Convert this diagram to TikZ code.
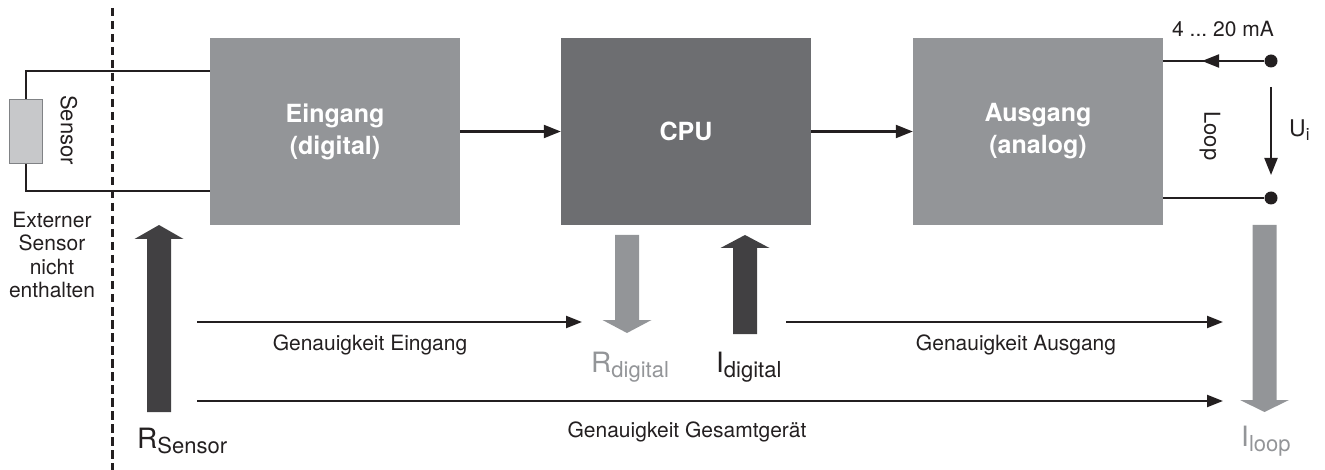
\documentclass[tikz,border=0pt]{standalone}
\usepackage{fontspec}
\setmainfont{TeX Gyre Heros}
\usetikzlibrary{arrows.meta}
\frenchspacing
\definecolor{boxgray}{HTML}{939598}
\definecolor{cpugray}{HTML}{6D6E71}
\definecolor{fatdark}{HTML}{414042}
\definecolor{inkblack}{HTML}{231F20}
\definecolor{sensfill}{HTML}{C7C8CA}
\definecolor{sensline}{HTML}{808285}

% wide block arrow: colour, x of axis, y of tail, y of head base, y of tip
\newcommand\fatarrow[5]{%
  \fill[#1] ({#2-12},#3) -- ({#2-12},#4) -- ({#2-24.5},#4) -- (#2,#5)
    -- ({#2+24.5},#4) -- ({#2+12},#4) -- ({#2+12},#3) -- cycle;}
\newcommand\bigsym[2]{{\fontsize{28}{30}\selectfont #1}\raisebox{-5pt}{\fontsize{22}{24}\selectfont #2}}

\begin{document}
\begin{tikzpicture}[x=1pt,y=-1pt,
  wire/.style={line width=2.1pt, draw=inkblack},
  conn/.style={wire, -{Triangle[length=17pt,width=13pt]}},
  block/.style={fill=#1, minimum width=250pt, minimum height=187pt,
    inner sep=0pt, text=white, align=center,
    font=\bfseries\fontsize{25}{32}\selectfont},
  lbl/.style={font=\fontsize{21}{23.5}\selectfont, text=inkblack, inner sep=0pt},
  sym/.style={inner sep=0pt, anchor=base west},
  dot/.style={circle, fill=inkblack, minimum size=13pt, inner sep=0pt}]

\useasboundingbox (0,0) rectangle (1325,470);

% processing blocks
\node[block=boxgray] (ein) at (335,131.5) {Eingang\\(digital)};
\node[block=cpugray] (cpu) at (686,131.5) {CPU};
\node[block=boxgray] (aus) at (1038,131.5) {Ausgang\\(analog)};

\draw[conn] (ein.east) -- (cpu.west);
\draw[conn] (cpu.east) -- (aus.west);

% external sensor and its wiring
\node[draw=sensline, fill=sensfill, line width=1.8pt, minimum width=33pt,
  minimum height=64pt, inner sep=0pt] (sens) at (26,131.5) {};
\coordinate (einTop) at (210,71);
\coordinate (einBot) at (210,191);
\draw[wire] (sens.north) |- (einTop);
\draw[wire] (sens.south) |- (einBot);
\node[lbl, font=\fontsize{22}{24}\selectfont, rotate=-90] (sensTxt) at (69,130) {Sensor};
\node[lbl, align=center, anchor=base] (extTxt) at (52,298)
  {Externer\\Sensor\\nicht\\enthalten};

% boundary of the device
\coordinate (dashTop) at (112,8);
\coordinate (dashBot) at (112,470);
\draw[line width=3pt, inkblack, dash pattern=on 8.5pt off 4.5pt] (dashTop) -- (dashBot);

% current loop terminals
\node[dot] (dA) at (1271,61) {};
\node[dot] (dB) at (1271,198) {};
\coordinate (ausTop) at (1163,61);
\coordinate (ausBot) at (1163,198);
\coordinate (loopTip) at (1202,61);
\draw[wire] (dA) -- (ausTop);
\draw[wire, -{Triangle[length=17pt,width=13pt]}] (dA) -- (loopTip);
\draw[wire] (ausBot) -- (dB);
\coordinate (uTop) at (1271,87);
\coordinate (uBot) at (1271,175);
\draw[conn] (uTop) -- (uBot);
\node[lbl, anchor=base] (maTxt) at (1223,37) {4 ... 20 mA};
\node[lbl, font=\fontsize{22}{24}\selectfont, rotate=-90] (loopTxt) at (1210,136) {Loop};
\node[sym, text=inkblack] (uTxt) at (1289,137)
  {{\fontsize{23}{26}\selectfont U}\raisebox{-4pt}{\fontsize{17}{20}\selectfont i}};

% error contributions
\fatarrow{fatdark}{159}{412}{239}{225}
\fatarrow{boxgray}{627}{235}{320}{333}
\fatarrow{fatdark}{745}{334}{248}{235}
\fatarrow{boxgray}{1264.5}{225}{400}{412}

\node[sym, text=inkblack] (rSens) at (137,448) {\bigsym{R}{Sensor}};
\node[sym, text=boxgray] (rDig) at (591,372) {\bigsym{R}{digital}};
\node[sym, text=inkblack] (iDig) at (716,372) {\bigsym{I}{digital}};
\node[sym, text=boxgray] (iLoop) at (1241,446) {\bigsym{I}{loop}};

% accuracy ranges
\coordinate (gE1) at (197,322);
\coordinate (gE2) at (582,322);
\coordinate (gA1) at (786,322);
\coordinate (gA2) at (1223,322);
\coordinate (gG1) at (197,401);
\coordinate (gG2) at (1223,401);
\draw[wire, -{Triangle[length=16pt,width=12pt]}] (gE1) -- (gE2);
\draw[wire, -{Triangle[length=16pt,width=12pt]}] (gA1) -- (gA2);
\draw[wire, -{Triangle[length=16pt,width=12pt]}] (gG1) -- (gG2);
\node[lbl, anchor=base] (gETxt) at (370,350) {Genauigkeit Eingang};
\node[lbl, anchor=base] (gATxt) at (1016,350) {Genauigkeit Ausgang};
\node[lbl, anchor=base] (gGTxt) at (687,437) {Genauigkeit Gesamtgerät};

\end{tikzpicture}
\end{document}
